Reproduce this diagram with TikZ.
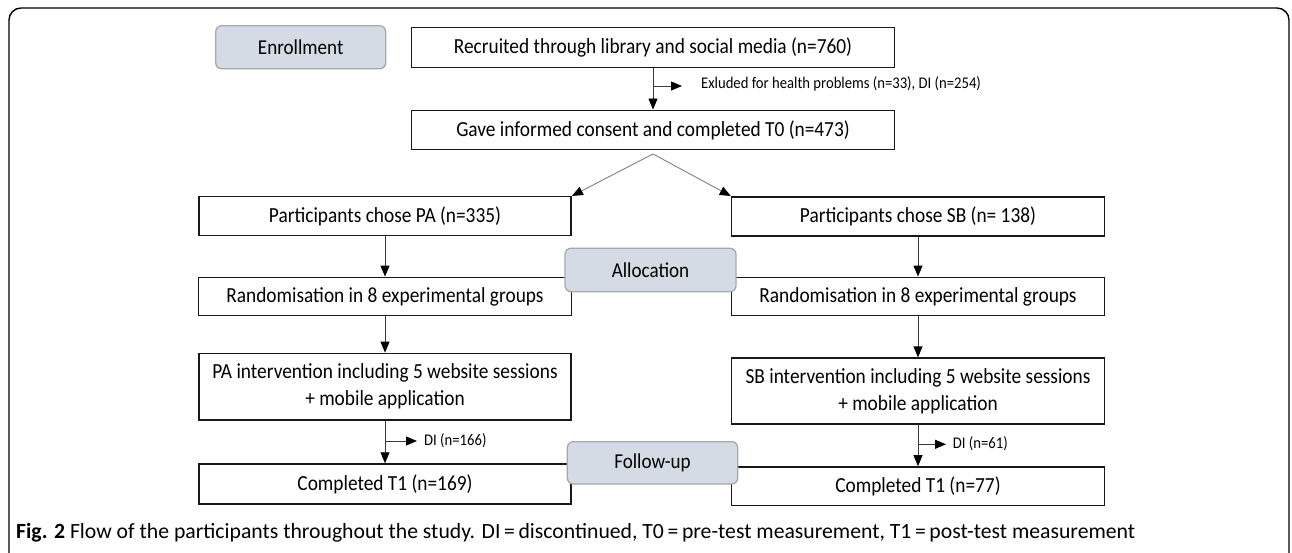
\documentclass[tikz,border=0pt]{standalone}
\usepackage{fontspec}
\setmainfont{Carlito}[FakeStretch=0.9]
\newfontfamily\capfont{Carlito}
\usetikzlibrary{arrows.meta}
\definecolor{stagefill}{HTML}{D5DBE4}
\definecolor{stageline}{HTML}{A8A8A8}
\definecolor{conn}{HTML}{3A3A3A}
\tikzset{
  flowbox/.style={draw=black!90, line width=1.5pt, fill=white, inner sep=0pt, align=center, font=\fontsize{21.5}{27}\selectfont},
  stagebox/.style={draw=stageline, line width=1.3pt, fill=stagefill, rounded corners=6pt, inner sep=0pt, font=\fontsize{21.2}{25}\selectfont},
  arr/.style={draw=conn, line width=0.9pt, -{Triangle[length=11pt,width=9pt,color=black]}},
  splitarr/.style={draw=gray, line width=0.9pt, -{Triangle[length=11pt,width=9pt,color=black]}},
  smalltxt/.style={inner sep=0pt, anchor=west, font=\fontsize{16.3}{19}\selectfont},
}
\begin{document}
\begin{tikzpicture}[x=1pt,y=-1pt]
\useasboundingbox (0,0) rectangle (1292,553);
\clip (0,0) rectangle (1292,553);
\draw[line width=1.4pt, rounded corners=12pt] (9,8) rectangle (1289,565);
% boxes
\node[flowbox, minimum width=483pt, minimum height=40pt] (recr) at (653,47.3) {Recruited through library and social media (n=760)};
\node[flowbox, minimum width=483pt, minimum height=39.4pt] (gave) at (653,130) {Gave informed consent and completed T0 (n=473)};
\node[flowbox, minimum width=372.3pt, minimum height=38.6pt] (pa) at (385,216) {Participants chose PA (n=335)};
\node[flowbox, minimum width=373pt, minimum height=39pt] (sb) at (918,216.3) {Participants chose SB (n= 138)};
\node[flowbox, minimum width=372.8pt, minimum height=38.4pt] (rpa) at (385,296.5) {Randomisation in 8 experimental groups};
\node[flowbox, minimum width=373pt, minimum height=38.4pt] (rsb) at (918,296.5) {Randomisation in 8 experimental groups};
\node[flowbox, minimum width=372.3pt, minimum height=66.7pt] (ipa) at (385,386.7) {PA intervention including 5 website sessions\\+ mobile application};
\node[flowbox, minimum width=373pt, minimum height=65.7pt] (isb) at (918,391) {SB intervention including 5 website sessions\\+ mobile application};
\node[flowbox, minimum width=372.3pt, minimum height=40pt] (cpa) at (385,484) {Completed T1 (n=169)};
\node[flowbox, minimum width=373pt, minimum height=38.7pt] (csb) at (918,486.3) {Completed T1 (n=77)};
% stage labels (on top)
\node[stagebox, minimum width=170pt, minimum height=43pt] (enroll) at (300.7,47.3) {Enrollment};
\node[stagebox, minimum width=171pt, minimum height=43.4pt] (alloc) at (650.5,270) {Allocation};
\node[stagebox, minimum width=170.4pt, minimum height=42.3pt] (follow) at (652.5,462.8) {Follow-up};
% enrollment connectors
\draw[arr] (recr) -- (gave);
\coordinate (b1) at (653,86);
\coordinate (e1) at (682,86);
\draw[arr] (b1) -- (e1);
\node[smalltxt] (excl) at (701,84) {Exluded for health problems (n=33), DI (n=254)};
% split
\coordinate (apex) at ([yshift=-3.5pt]gave.south);
\draw[splitarr] (apex) -- (pa.north east);
\draw[splitarr] (apex) -- (sb.north west);
% columns
\draw[arr] (pa) -- (rpa);
\draw[arr] (rpa) -- (ipa);
\draw[arr] (sb) -- (rsb);
\draw[arr] (rsb) -- (isb);
\draw[arr] (ipa) -- (cpa);
\draw[arr] (isb) -- (csb);
\coordinate (b2) at (385,441);
\coordinate (e2) at (417,441);
\draw[arr] (b2) -- (e2);
\node[smalltxt] (di1) at (424,441) {DI (n=166)};
\coordinate (b3) at (918,444.3);
\coordinate (e3) at (946,444.3);
\draw[arr] (b3) -- (e3);
\node[smalltxt] (di2) at (952.7,444) {DI (n=61)};
% caption
\node[anchor=west, inner sep=0pt, font=\capfont\fontsize{21.7}{25}\selectfont] (cap) at (16,533) {\textbf{Fig. 2} Flow of the participants throughout the study. DI\,=\,discontinued, T0\,=\,pre-test measurement, T1\,=\,post-test measurement};
\end{tikzpicture}
\end{document}
